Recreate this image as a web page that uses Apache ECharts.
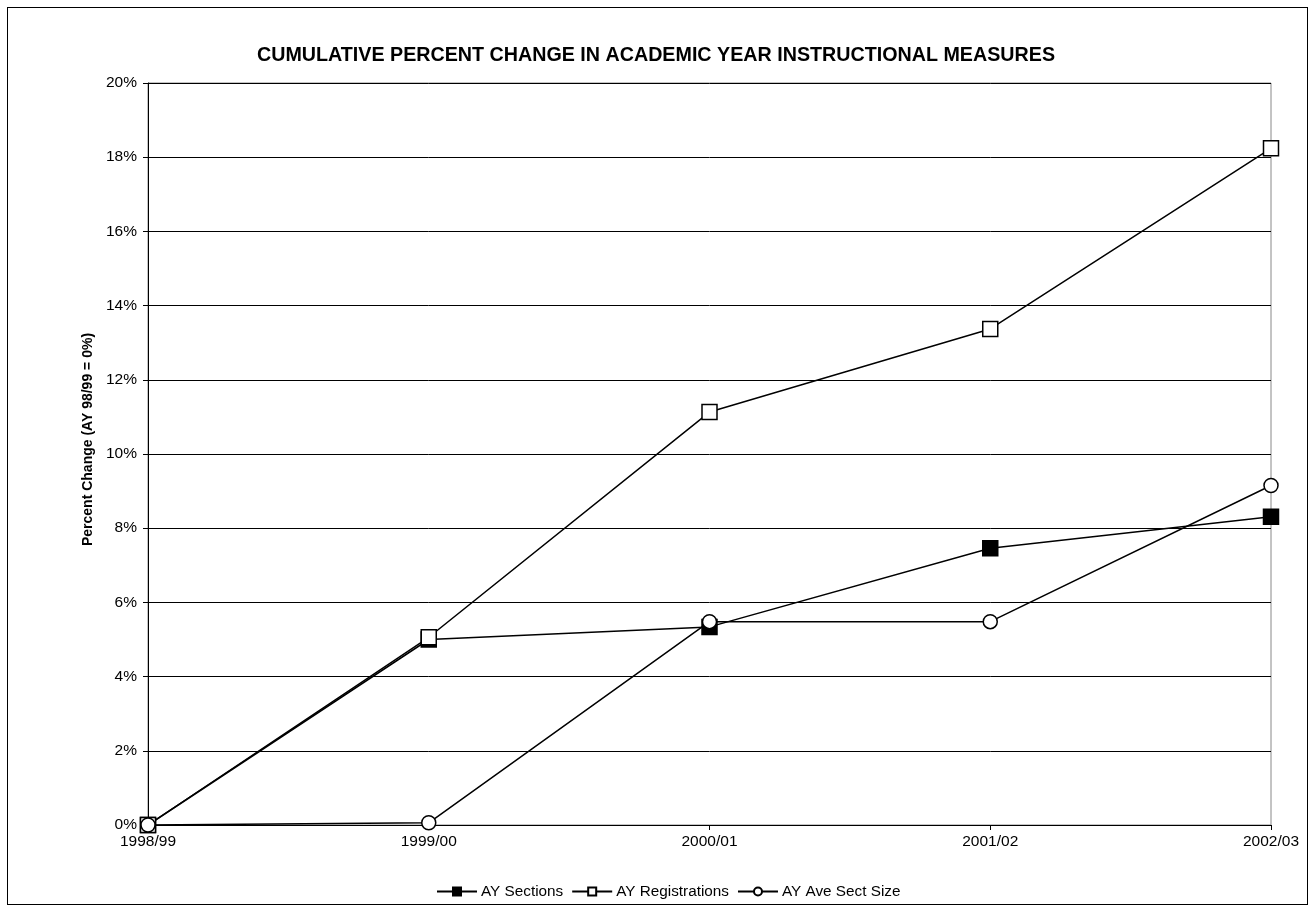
<!DOCTYPE html>
<html>
<head>
<meta charset="utf-8">
<script src="https://cdn.jsdelivr.net/npm/echarts@6/dist/echarts.min.js"></script>
<style>
html,body{margin:0;padding:0;background:#fff;}
#frame{position:absolute;left:7px;top:7px;width:1301px;height:898px;border:1px solid #000;box-sizing:border-box;}
#chart{position:absolute;left:0;top:0;width:1312px;height:912px;}
</style>
</head>
<body>
<div id="frame"></div>
<div id="chart"></div>
<script>
const categories = ['1998/99', '1999/00', '2000/01', '2001/02', '2002/03'];
const sections = [0, 5.0, 5.34, 7.46, 8.31];
const registrations = [0, 5.06, 11.13, 13.37, 18.24];
const aveSectSize = [0, 0.06, 5.48, 5.48, 9.15];
const yTicks = [0, 2, 4, 6, 8, 10, 12, 14, 16, 18, 20];

const chart = echarts.init(document.getElementById('chart'), null, {renderer: 'canvas'});
const font = 'Liberation Sans, Arial, sans-serif';
function mk(name, data, symbol, fill, size) {
  return {
    name: name, type: 'line', data: data, symbol: symbol, symbolSize: size,
    showAllSymbol: true,
    lineStyle: {color: '#000', width: 1.5},
    itemStyle: {color: fill, borderColor: '#000', borderWidth: 1.5},
    emphasis: {disabled: true},
    animation: false
  };
}
chart.setOption({
  backgroundColor: 'transparent',
  animation: false,
  title: {
    text: 'CUMULATIVE PERCENT CHANGE IN ACADEMIC YEAR INSTRUCTIONAL MEASURES',
    left: 'center', top: 41,
    textStyle: {fontFamily: font, fontSize: 19.7, fontWeight: 'bold', color: '#000'}
  },
  grid: {left: 148, right: 41, top: 83, bottom: 87, containLabel: false,
    show: true, borderColor: '#888', borderWidth: 1, backgroundColor: 'transparent'},
  xAxis: {
    type: 'category', data: categories, boundaryGap: false,
    axisLine: {lineStyle: {color: '#000', width: 1}},
    axisTick: {show: true, length: 5, lineStyle: {color: '#000'}},
    axisLabel: {fontFamily: font, fontSize: 15.5, color: '#000', margin: 9},
    splitLine: {show: false},
  },
  yAxis: {
    type: 'value', min: 0, max: 20, interval: 2,
    name: 'Percent Change (AY 98/99 = 0%)', nameLocation: 'middle', nameGap: 52,
    nameTextStyle: {fontFamily: font, fontSize: 14, fontWeight: 'bold', color: '#000',
      padding: [0, 0, 0, 29]},
    axisLine: {show: true, lineStyle: {color: '#000', width: 1}},
    axisTick: {show: true, length: 5, lineStyle: {color: '#000'}},
    axisLabel: {fontFamily: font, fontSize: 15.5, color: '#000', margin: 11,
      formatter: v => yTicks.includes(v) ? v + '%' : ''},
    splitLine: {show: true, lineStyle: {color: '#000', width: 1}}
  },
  legend: {
    bottom: 8, left: 431, itemWidth: 40, itemHeight: 10, itemGap: 8,
    textStyle: {fontFamily: font, fontSize: 15.3, color: '#000', padding: [0, 0, 0, -1]},
    data: ['AY Sections', 'AY Registrations', 'AY Ave Sect Size']
  },
  series: [
    mk('AY Sections', sections, 'rect', '#000', 15),
    mk('AY Registrations', registrations, 'rect', '#fff', 15),
    mk('AY Ave Sect Size', aveSectSize, 'circle', '#fff', 14)
  ]
});
</script>
</body>
</html>
